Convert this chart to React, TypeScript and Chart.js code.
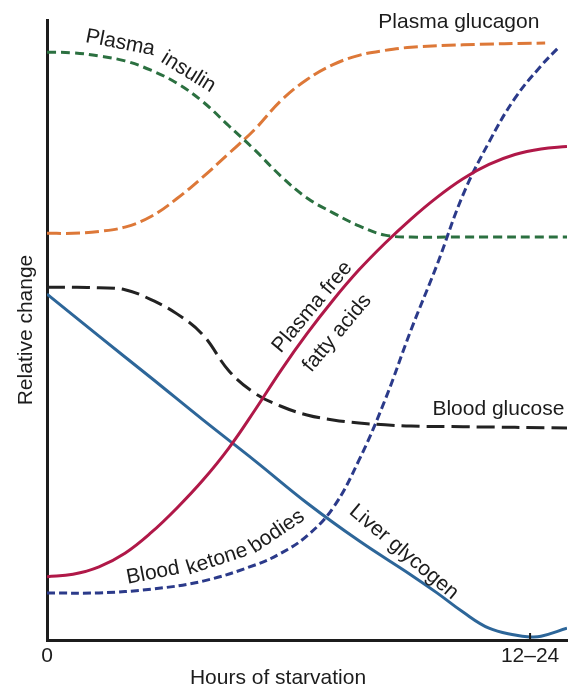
import React, { useEffect, useRef } from "react";
import { Chart, registerables } from "chart.js";

Chart.register(...registerables);

// ---- Data (x in % of time axis 0–100, y in % of relative change 0–100) ----
const insulinX = [0, 5, 10, 15, 20, 25, 30, 35, 40, 45, 50, 55, 60, 65, 70, 80, 100];
const insulinY = [94.8, 94.7, 94.2, 93.4, 91.9, 89.8, 86.8, 82.9, 79.0, 74.8, 71.3, 68.9, 66.8, 65.3, 65.0, 65.0, 65.0];

const glucagonX = [0, 5, 10, 15, 20, 25, 30, 35, 40, 45, 50, 55, 60, 65, 70, 80, 95.8];
const glucagonY = [65.6, 65.6, 65.9, 66.6, 68.3, 71.2, 74.7, 78.5, 82.4, 87.0, 90.4, 92.8, 94.3, 95.1, 95.6, 96.0, 96.3];

const ffaX = [0, 5, 10, 15, 20, 25, 30, 35, 40, 45, 50, 55, 60, 65, 70, 75, 80, 85, 90, 95, 100];
const ffaY = [10.2, 10.6, 11.8, 14.0, 17.3, 21.3, 25.8, 31.0, 37.1, 43.5, 49.4, 54.8, 59.7, 64.0, 67.9, 71.4, 74.4, 76.7, 78.3, 79.2, 79.6];

const glucoseX = [0, 5, 10, 15, 20, 25, 30, 35, 40, 45, 50, 55, 60, 65, 70, 80, 100];
const glucoseY = [56.9, 56.9, 56.8, 56.5, 54.9, 52.6, 49.2, 43.4, 39.8, 37.7, 36.3, 35.5, 35.0, 34.7, 34.5, 34.4, 34.2];

const glycogenX = [0, 10, 20, 30, 40, 50, 60, 70, 75, 80, 85, 90, 92.9, 95, 100];
const glycogenY = [55.8, 49.0, 42.3, 35.5, 28.9, 22.1, 16.0, 10.5, 7.6, 4.5, 1.9, 0.8, 0.5, 0.6, 1.9];

const ketoneX = [0, 10, 20, 30, 40, 45, 50, 55, 60, 65, 70, 75, 80, 85, 90, 95, 98.3];
const ketoneY = [7.6, 7.6, 8.2, 9.5, 12.1, 14.0, 16.8, 21.3, 29.0, 38.7, 50.0, 60.5, 71.8, 80.3, 87.4, 92.6, 95.5];

const xTickValues = [0, 92.9];
const xTickLabels = ["0", "12\u201324"];

const xTitle = "Hours of starvation";
const yTitle = "Relative change";

// Curve labels placed in data coordinates
const curveLabels = [
  { text: "Plasma glucagon", x: 79.2, y: 99.7, angle: 0 },
  { text: "Blood glucose", x: 86.8, y: 37.2, angle: 0 },
  { text: "Plasma", x: 14.1, y: 96.3, angle: 11 },
  { text: "insulin", x: 27.2, y: 91.6, angle: 32 },
  { text: "Plasma free", x: 51.0, y: 53.7, angle: -50 },
  { text: "fatty acids", x: 55.8, y: 49.5, angle: -50 },
  { text: "Blood", x: 20.4, y: 10.8, angle: -11 },
  { text: "ketone", x: 32.7, y: 13.0, angle: -18 },
  { text: "bodies", x: 44.2, y: 17.5, angle: -34 },
  { text: "Liver glycogen", x: 68.6, y: 14.2, angle: 40 },
];

const FONT = "'Liberation Sans', Arial, Helvetica, sans-serif";
const TEXT_COLOR = "#1c1c1c";

const zip = (xs: number[], ys: number[]) => xs.map((x, i) => ({ x, y: ys[i] }));

const labelPlugin = {
  id: "curveLabels",
  afterDraw(chart: any) {
    const { ctx, scales } = chart;
    const xs = scales.x;
    const ys = scales.y;
    ctx.save();
    ctx.fillStyle = TEXT_COLOR;
    ctx.font = `21px ${FONT}`;
    ctx.textAlign = "center";
    ctx.textBaseline = "middle";
    for (const l of curveLabels) {
      const px = xs.getPixelForValue(l.x);
      const py = ys.getPixelForValue(l.y);
      ctx.save();
      ctx.translate(px, py);
      ctx.rotate((l.angle * Math.PI) / 180);
      ctx.fillText(l.text, 0, 0);
      ctx.restore();
    }
    // x-axis title
    ctx.fillText(xTitle, 278, 678);
    // inward tick mark at the last x tick
    const tx = xs.getPixelForValue(xTickValues[1]);
    ctx.strokeStyle = TEXT_COLOR;
    ctx.lineWidth = 2;
    ctx.beginPath();
    ctx.moveTo(tx, chart.chartArea.bottom);
    ctx.lineTo(tx, chart.chartArea.bottom - 7);
    ctx.stroke();
    ctx.restore();
  },
};

export default function App() {
  const ref = useRef<HTMLCanvasElement | null>(null);

  useEffect(() => {
    if (!ref.current) return;
    Chart.defaults.font.family = FONT;
    const common = {
      borderWidth: 3,
      pointRadius: 0,
      fill: false,
      tension: 0.4,
    };
    const chart = new Chart(ref.current, {
      type: "line",
      data: {
        datasets: [
          { ...common, label: "Plasma insulin", data: zip(insulinX, insulinY), borderColor: "#2b7040", borderDash: [9, 5] },
          { ...common, label: "Plasma glucagon", data: zip(glucagonX, glucagonY), borderColor: "#dd7838", borderDash: [14, 5] },
          { ...common, label: "Plasma free fatty acids", data: zip(ffaX, ffaY), borderColor: "#b01848" },
          { ...common, label: "Blood glucose", data: zip(glucoseX, glucoseY), borderColor: "#222222", borderDash: [18, 7] },
          { ...common, label: "Liver glycogen", data: zip(glycogenX, glycogenY), borderColor: "#2d6699" },
          { ...common, label: "Blood ketone bodies", data: zip(ketoneX, ketoneY), borderColor: "#2b3a8a", borderDash: [8, 4] },
        ],
      },
      options: {
        animation: false,
        responsive: false,
        layout: { padding: { top: 20, right: 8, left: 0, bottom: 0 } },
        plugins: {
          legend: { display: false },
          tooltip: { enabled: false },
        },
        scales: {
          x: {
            type: "linear",
            min: 0,
            max: 100,
            grid: { display: false, drawTicks: false },
            border: { display: true, color: "#1c1c1c", width: 3 },
            afterBuildTicks: (scale: any) => {
              scale.ticks = xTickValues.map((v) => ({ value: v }));
            },
            afterFit: (scale: any) => {
              scale.height = 56;
            },
            ticks: {
              autoSkip: false,
              maxRotation: 0,
              padding: 4,
              color: TEXT_COLOR,
              font: { size: 21, family: FONT },
              callback: (v: any) => {
                const i = xTickValues.indexOf(Number(v));
                return i >= 0 ? xTickLabels[i] : "";
              },
            },
          },
          y: {
            type: "linear",
            min: 0,
            max: 100,
            grid: { display: false, drawTicks: false },
            border: { display: true, color: "#1c1c1c", width: 3 },
            ticks: { display: false },
            afterFit: (scale: any) => {
              scale.width = 47;
            },
            title: {
              display: true,
              text: yTitle,
              color: TEXT_COLOR,
              font: { size: 21, family: FONT },
              padding: { top: 14, bottom: 0 },
            },
          },
        },
      },
      plugins: [labelPlugin],
    });
    return () => chart.destroy();
  }, []);

  return (
    <div style={{ position: "fixed", left: 0, top: 0, width: 575, height: 696, background: "#fff" }}>
      <canvas ref={ref} width={575} height={696} style={{ display: "block" }} />
    </div>
  );
}
